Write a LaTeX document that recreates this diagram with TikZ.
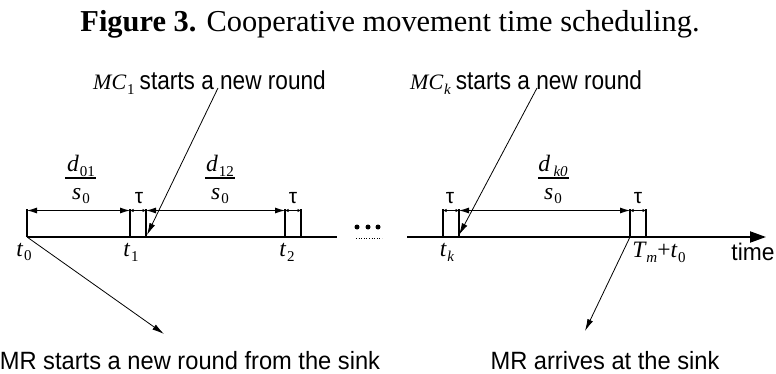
\documentclass[tikz,border=0pt]{standalone}
\usepackage{fontspec}
\usepackage{graphicx}
\setmainfont{Liberation Serif}
\newfontfamily\arialf{Liberation Sans}
\usetikzlibrary{arrows.meta}
\newcommand{\mysub}[2]{#1\kern1pt\raisebox{-0.45ex}{\fontsize{15}{15}\selectfont #2}}
\newcommand{\sqz}[2]{\scalebox{#1}[1]{#2}}
\begin{document}
\begin{tikzpicture}[x=1pt,y=-1pt,
  axis/.style={line width=2pt},
  tickline/.style={line width=2pt},
  dim/.style={line width=0.9pt,{Latex[length=10pt,width=6pt]}-{Latex[length=10pt,width=6pt]}},
  taudim/.style={line width=0.7pt,{Latex[length=3.5pt,width=3.5pt]}-{Latex[length=3.5pt,width=3.5pt]}},
  callout/.style={line width=0.8pt,-{Latex[length=12pt,width=6pt]}},
  toplbl/.style={font=\fontsize{26}{26}\selectfont, inner sep=0, anchor=base west},
  botlbl/.style={font=\arialf\fontsize{25}{25}\selectfont, inner sep=0, anchor=base},
  mth/.style={font=\fontsize{23.5}{23.5}\selectfont\itshape, inner sep=0},
  taulbl/.style={font=\arialf\fontsize{21}{21}\selectfont, inner sep=0},
  fracbar/.style={line width=1.6pt},
]
\useasboundingbox (0,0) rectangle (776,374);

% title
\node[inner sep=0,font=\fontsize{30.4}{30.4}\selectfont] (title) at (390,24) {\textbf{Figure 3.} Cooperative movement time scheduling.};

% axis
\coordinate (a0) at (27,237);
\coordinate (a1) at (337,237);
\coordinate (b0) at (407,237);
\coordinate (b1) at (766,237);
\draw[axis] (a0) -- (a1);
\draw[axis,-{Triangle[length=16pt,width=11pt]}] (b0) -- (b1);

% ticks
\foreach \n/\x in {t0/27,t1a/130,t1b/146,t2a/285,t2b/301,tka/443,tkb/459,tma/630,tmb/646}{
  \coordinate (\n) at (\x,237);
  \coordinate (\n u) at (\x,209);
  \coordinate (\n m) at (\x,210.5);
  \draw[tickline] (\n) -- (\n u);
}

% dimension arrows
\draw[dim] (t0m) -- (t1am);
\draw[dim] (t1bm) -- (t2am);
\draw[dim] (tkbm) -- (tmam);
\draw[taudim] (t1am) -- (t1bm);
\draw[taudim] (t2am) -- (t2bm);
\draw[taudim] (tkam) -- (tkbm);
\draw[taudim] (tmam) -- (tmbm);

% tau labels
\node[taulbl] (tau1) at (139,198) {τ};
\node[taulbl] (tau2) at (293,198) {τ};
\node[taulbl] (tau3) at (450,198) {τ};
\node[taulbl] (tau4) at (638,198) {τ};

% fractions
\node[mth] (n1) at (81,166) {\mysub{d}{\upshape 01}};
\draw[fracbar] (65,178) -- (96,178);
\node[mth] (d1) at (81,196) {\mysub{s}{\upshape 0}};
\node[mth] (n2) at (220,166) {\mysub{d}{\upshape 12}};
\draw[fracbar] (205,178) -- (235,178);
\node[mth] (d2) at (220,196) {\mysub{s}{\upshape 0}};
\node[mth] (n3) at (553,166) {\mysub{d}{\,\itshape k0}};
\draw[fracbar] (538,178) -- (569,178);
\node[mth] (d3) at (553,196) {\mysub{s}{\upshape 0}};

% dots
\foreach \x in {357,368,378}{\fill (\x,227) circle (2.5);}
\coordinate (dl0) at (356,238);
\coordinate (dl1) at (382,238);
\draw[dotted,line width=0.6pt] (dl0) -- (dl1);

% time labels
\node[mth] (l0) at (24,252) {\mysub{t}{\upshape 0}};
\node[mth] (l1) at (131,252) {\mysub{t}{\upshape 1}};
\node[mth] (l2) at (287,252) {\mysub{t}{\upshape 2}};
\node[mth] (lk) at (447,252) {\mysub{t}{\itshape k}};
\node[mth] (lm) at (659,252) {\mysub{T}{\itshape m}\upshape+\itshape\mysub{t}{\upshape 0}};
\node[inner sep=0,font=\arialf\fontsize{24}{24}\selectfont] (time) at (753,252) {\sqz{0.95}{time}};

% callouts top
\node[toplbl] (mc1) at (93,90) {{\itshape\fontsize{22}{22}\selectfont\mysub{MC}{\upshape 1}}\hspace{5pt}{\arialf\sqz{0.87}{starts a new round}}};
\node[toplbl] (mck) at (410,90) {{\itshape\fontsize{22}{22}\selectfont\mysub{MC}{\itshape k}}\hspace{5pt}{\arialf\sqz{0.87}{starts a new round}}};
\coordinate (mc1s) at (218,88);
\coordinate (mc1e) at (147,235);
\coordinate (mcks) at (537,88);
\coordinate (mcke) at (459,235);
\draw[callout] (mc1s) -- (mc1e);
\draw[callout] (mcks) -- (mcke);

% callouts bottom
\node[botlbl] (mr1) at (190,369) {\sqz{0.947}{MR starts a new round from the sink}};
\node[botlbl] (mr2) at (605,369) {\sqz{0.947}{MR arrives at the sink}};
\coordinate (mr1e) at (164,334);
\coordinate (mr2e) at (585,331);
\draw[callout] (t0) -- (mr1e);
\draw[callout] (tma) -- (mr2e);
\end{tikzpicture}
\end{document}
